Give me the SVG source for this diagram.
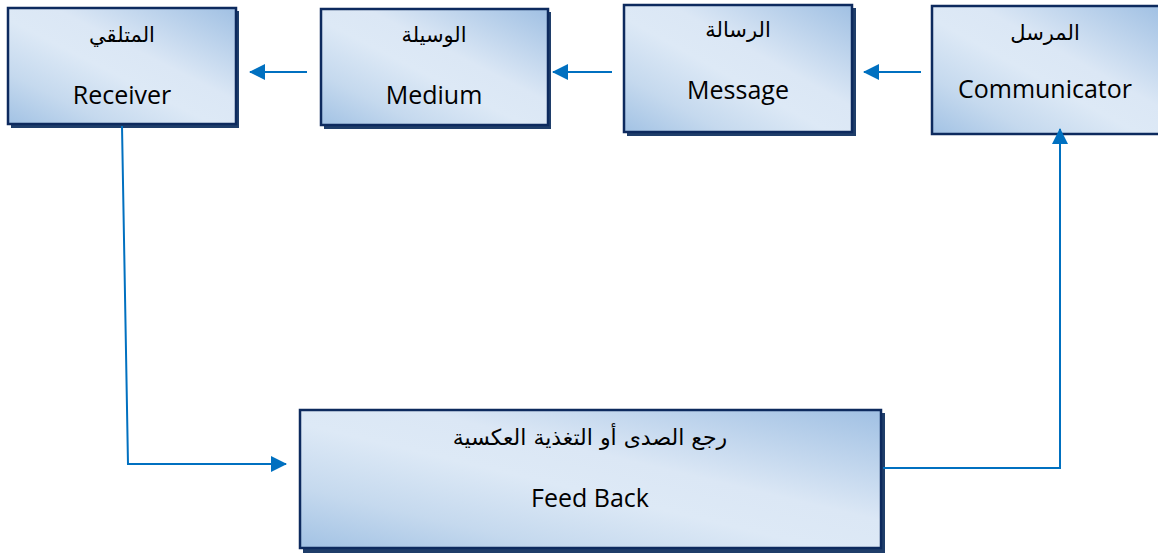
<svg xmlns="http://www.w3.org/2000/svg" width="1158" height="555" viewBox="0 0 1158 555">
<defs>
<linearGradient id="g" x1="0" y1="1" x2="1" y2="0">
<stop offset="0" stop-color="#a2c2e4"/>
<stop offset="0.22" stop-color="#c5d9ee"/>
<stop offset="0.45" stop-color="#dde9f6"/>
<stop offset="0.6" stop-color="#dbe7f5"/>
<stop offset="1" stop-color="#a0c0e3"/>
</linearGradient>
<marker id="ah" viewBox="0 0 16 16" refX="15" refY="8" markerWidth="16" markerHeight="16" markerUnits="userSpaceOnUse" orient="auto">
<path d="M0,0 L16,8 L0,16 Z" fill="#0070c0"/>
</marker>
<style>
.sh{fill:#1f3e6a}
.bx{fill:url(#g);stroke:#0d2a5e;stroke-width:2.5}
.ar{font-family:"DejaVu Sans","Noto Sans",sans-serif;font-size:21px;fill:#000;text-anchor:middle}
.en{font-family:"Open Sans","Liberation Sans",sans-serif;font-size:25px;fill:#000;text-anchor:middle}
.cn{fill:none;stroke:#0070c0;stroke-width:2}
</style>
</defs>
<g id="receiver">
<rect class="sh" x="11" y="11" width="228" height="117"/>
<rect class="bx" x="8" y="8" width="228" height="116"/>
<text class="ar" x="122" y="42" direction="rtl">المتلقي</text>
<text class="en" x="122" y="104">Receiver</text>
</g>
<g id="medium">
<rect class="sh" x="324" y="12" width="227" height="117"/>
<rect class="bx" x="321" y="9" width="227" height="116"/>
<text class="ar" x="434" y="42" direction="rtl">الوسيلة</text>
<text class="en" x="434" y="104">Medium</text>
</g>
<g id="message">
<rect class="sh" x="627" y="8" width="229" height="128"/>
<rect class="bx" x="624" y="5" width="228" height="127"/>
<text class="ar" x="738" y="37" direction="rtl">الرسالة</text>
<text class="en" x="738" y="99">Message</text>
</g>
<g id="communicator">
<rect class="bx" x="932" y="6" width="230" height="128"/>
<text class="ar" x="1045" y="40" direction="rtl">المرسل</text>
<text class="en" x="1045" y="98">Communicator</text>
</g>
<g id="feedback">
<rect class="sh" x="303" y="413" width="582" height="140"/>
<rect class="bx" x="300" y="410" width="581" height="138"/>
<text class="ar" x="590" y="445" direction="rtl" style="font-size:22px">رجع الصدى أو التغذية العكسية</text>
<text class="en" x="590" y="507">Feed Back</text>
</g>
<g id="connectors">
<line class="cn" x1="307" y1="72" x2="250" y2="72" marker-end="url(#ah)"/>
<line class="cn" x1="612" y1="72" x2="553" y2="72" marker-end="url(#ah)"/>
<line class="cn" x1="921" y1="72" x2="864" y2="72" marker-end="url(#ah)"/>
<polyline class="cn" points="122,126 128,464 286,464" marker-end="url(#ah)"/>
<polyline class="cn" points="883,468 1060,468 1060,129" marker-end="url(#ah)"/>
</g>
</svg>
